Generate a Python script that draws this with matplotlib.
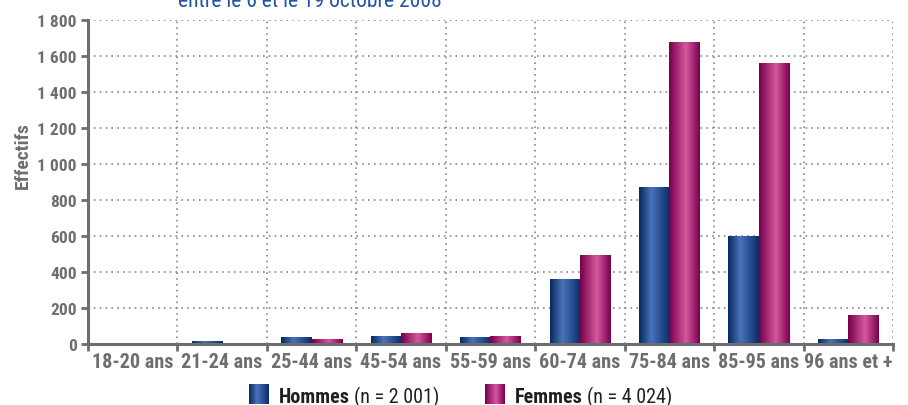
import matplotlib
matplotlib.use("Agg")
import matplotlib.pyplot as plt
import numpy as np
from matplotlib.colors import LinearSegmentedColormap
from matplotlib.ticker import FuncFormatter, FixedLocator

plt.rcParams['font.family'] = ['Roboto Condensed', 'DejaVu Sans']

categories = ['18-20 ans', '21-24 ans', '25-44 ans', '45-54 ans', '55-59 ans',
              '60-74 ans', '75-84 ans', '85-95 ans', '96 ans et +']
hommes = [0, 18, 39, 45, 40, 362, 870, 599, 28]
femmes = [0, 0, 28, 62, 45, 495, 1677, 1557, 160]
title = 'entre le 6 et le 19 octobre 2008'

grey = '#6d6e71'
blue_cm = LinearSegmentedColormap.from_list('b', [(0, '#062a5e'), (0.4, '#4a72b8'), (0.55, '#3a62a8'), (1, '#0b2c66')])
pink_cm = LinearSegmentedColormap.from_list('p', [(0, '#76004c'), (0.55, '#d5589d'), (1, '#7a0050')])

fig = plt.figure(figsize=(9.08, 4.06), dpi=100)
ax = fig.add_axes([88/908, 1-345/406, (893-88)/908, (345-20.7)/406])

x = np.arange(len(categories))
w = 0.34
bh = ax.bar(x - w/2, hommes, w, facecolor='none', edgecolor='none', zorder=3)
bf = ax.bar(x + w/2, femmes, w, facecolor='none', edgecolor='none', zorder=3)

grad = np.linspace(0, 1, 64).reshape(1, -1)
for bars, cm in ((bh, blue_cm), (bf, pink_cm)):
    for b in bars:
        if b.get_height() <= 0:
            continue
        x0, y0 = b.get_x(), b.get_y()
        im = ax.imshow(grad, cmap=cm, aspect='auto', zorder=3,
                       extent=(x0, x0 + b.get_width(), y0, y0 + b.get_height()))
        im.set_clip_path(b)

ax.set_xlim(-0.5, len(categories) - 0.5)
ax.set_ylim(0, 1800)
ax.set_yticks(range(0, 1801, 200))
ax.yaxis.set_major_formatter(FuncFormatter(lambda v, p: '{:,}'.format(int(v)).replace(',', ' ')))
ax.xaxis.set_major_locator(FixedLocator(np.arange(-0.5, len(categories), 1)))
ax.set_xticklabels([])
ax.xaxis.set_minor_locator(FixedLocator(x))
ax.set_xticklabels(categories, minor=True)
ax.tick_params(axis='x', which='minor', length=0, pad=6, labelsize=14.5, labelcolor=grey)
ax.tick_params(axis='x', which='major', length=5, width=2, color=grey)
ax.tick_params(axis='y', length=5, width=2, color=grey, labelsize=12.5, labelcolor=grey, pad=3)
for lbl in ax.get_xticklabels(minor=True) + ax.get_yticklabels():
    lbl.set_fontweight('bold')

ax.grid(True, which='major', color='#888888', linestyle=(0, (1, 2.5)), linewidth=1.2, zorder=0)
ax.set_axisbelow(True)
for s in ('top', 'right'):
    ax.spines[s].set_visible(False)
for s in ('left', 'bottom'):
    ax.spines[s].set_color(grey)
    ax.spines[s].set_linewidth(2.2)
    ax.spines[s].set_zorder(4)
ax.spines['left'].set_bounds(0, 1800)

fig.text(23/908, 1-156/406, 'Effectifs', rotation=90, ha='center', va='center',
         color=grey, fontsize=14, fontweight='bold')
fig.text(178/908, 1-7/406, title, ha='left', va='baseline', color='#1f55a8', fontsize=15.5)

# legend
def legend_item(x_px, cm, bold, rest):
    lax = fig.add_axes([x_px/908, 1-405/406, 20/908, 20/406])
    lax.imshow(grad, cmap=cm, aspect='auto')
    lax.axis('off')
    t = fig.text((x_px + 30)/908, 1-403/406, bold, ha='left', va='baseline',
                 fontsize=14.5, fontweight='bold', color='#231f20')
    fig.canvas.draw()
    bb = t.get_window_extent()
    fig.text(bb.x1/908 + 4/908, 1-403/406, rest, ha='left', va='baseline',
             fontsize=14.5, color='#231f20')

legend_item(249, blue_cm, 'Hommes', '(n = 2 001)')
legend_item(485, pink_cm, 'Femmes', '(n = 4 024)')

fig.savefig('out.png', dpi=100)
